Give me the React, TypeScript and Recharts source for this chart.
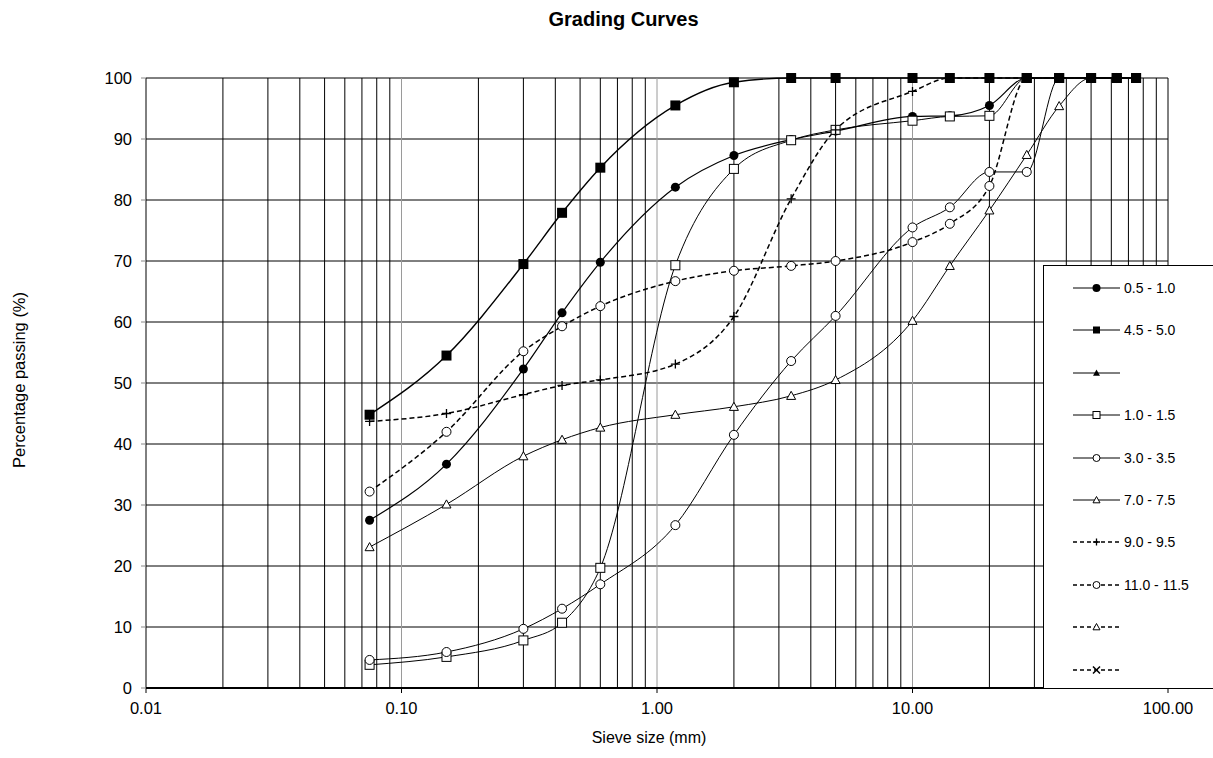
import React from 'react';
import { LineChart, Line, XAxis, YAxis, CartesianGrid, ReferenceLine } from 'recharts';

// sieve sizes (mm) used by every grading test
const sieveSizes = [0.075, 0.15, 0.3, 0.425, 0.6, 1.18, 2, 3.35, 5, 10, 14, 20, 28, 37.5, 50, 63, 75];

// percentage passing per sample depth
const depth05to10 = [27.5, 36.7, 52.3, 61.5, 69.8, 82.1, 87.3, 89.9, 91.3, 93.7, 93.8, 95.5, 100, 100, 100, 100, 100];
const depth45to50 = [44.8, 54.5, 69.5, 77.9, 85.3, 95.5, 99.3, 100, 100, 100, 100, 100, 100, 100, 100, 100, 100];
const depth10to15 = [3.8, 5.1, 7.8, 10.7, 19.7, 69.3, 85.1, 89.8, 91.5, 93.0, 93.7, 93.8, 100, 100, 100, 100, 100];
const depth30to35 = [4.6, 5.9, 9.7, 13.0, 17.0, 26.7, 41.5, 53.6, 61.0, 75.5, 78.8, 84.6, 84.6, 100, 100, 100, 100];
const depth70to75 = [23.1, 30.1, 38.0, 40.7, 42.7, 44.8, 46.1, 47.9, 50.5, 60.2, 69.2, 78.3, 87.4, 95.4, 100, 100, 100];
const depth90to95 = [43.7, 45.0, 48.1, 49.6, 50.5, 53.1, 60.9, 80.2, 91.5, 97.8, 100, 100, 100, 100, 100, 100, 100];
const depth110to115 = [32.2, 42.0, 55.2, 59.3, 62.6, 66.7, 68.4, 69.2, 70.0, 73.1, 76.1, 82.3, 100, 100, 100, 100, 100];

const xTicks = [0.01, 0.1, 1, 10, 100];
const yTicks = [0, 10, 20, 30, 40, 50, 60, 70, 80, 90, 100];

const data = sieveSizes.map((size, i) => ({
  size,
  d05: depth05to10[i],
  d45: depth45to50[i],
  d10: depth10to15[i],
  d30: depth30to35[i],
  d70: depth70to75[i],
  d90: depth90to95[i],
  d110: depth110to115[i],
}));

type Marker = 'dot' | 'square' | 'triangle' | 'hsquare' | 'hcircle' | 'htriangle' | 'plus' | 'cross';

// legend order matches the original workbook (some series have no data)
const series: { key: string | null; name: string; marker: Marker; dashed: boolean; width: number }[] = [
  { key: 'd05', name: '0.5 - 1.0', marker: 'dot', dashed: false, width: 1.2 },
  { key: 'd45', name: '4.5 - 5.0', marker: 'square', dashed: false, width: 1.4 },
  { key: null, name: '', marker: 'triangle', dashed: false, width: 1 },
  { key: 'd10', name: '1.0 - 1.5', marker: 'hsquare', dashed: false, width: 1 },
  { key: 'd30', name: '3.0 - 3.5', marker: 'hcircle', dashed: false, width: 1 },
  { key: 'd70', name: '7.0 - 7.5', marker: 'htriangle', dashed: false, width: 1 },
  { key: 'd90', name: '9.0 - 9.5', marker: 'plus', dashed: true, width: 1.5 },
  { key: 'd110', name: '11.0 - 11.5', marker: 'hcircle', dashed: true, width: 1.5 },
  { key: null, name: '', marker: 'htriangle', dashed: true, width: 1 },
  { key: null, name: '', marker: 'cross', dashed: true, width: 1.5 },
];

// log minor grid positions
const minorLines: number[] = [];
[0.01, 0.1, 1, 10].forEach((d) => {
  for (let k = 2; k <= 9; k++) minorLines.push(Number((d * k).toPrecision(3)));
});

function drawMarker(kind: Marker, cx: number, cy: number, s: number, key?: any) {
  const h = s / 2;
  switch (kind) {
    case 'dot':
      return <circle key={key} cx={cx} cy={cy} r={h} fill="#000" />;
    case 'square':
      return <rect key={key} x={cx - h} y={cy - h} width={s} height={s} fill="#000" />;
    case 'triangle':
      return <path key={key} d={`M${cx},${cy - h} L${cx + h},${cy + h * 0.8} L${cx - h},${cy + h * 0.8}Z`} fill="#000" />;
    case 'hsquare':
      return <rect key={key} x={cx - h} y={cy - h} width={s} height={s} fill="#fff" stroke="#000" strokeWidth={1} />;
    case 'hcircle':
      return <circle key={key} cx={cx} cy={cy} r={h} fill="#fff" stroke="#000" strokeWidth={1} />;
    case 'htriangle':
      return <path key={key} d={`M${cx},${cy - h} L${cx + h},${cy + h * 0.8} L${cx - h},${cy + h * 0.8}Z`} fill="#fff" stroke="#000" strokeWidth={1} />;
    case 'plus':
      return (
        <path key={key} d={`M${cx - h},${cy} H${cx + h} M${cx},${cy - h} V${cy + h}`} stroke="#000" strokeWidth={1.3} fill="none" />
      );
    case 'cross':
      return (
        <path key={key} d={`M${cx - h},${cy - h} L${cx + h},${cy + h} M${cx + h},${cy - h} L${cx - h},${cy + h}`} stroke="#000" strokeWidth={1.5} fill="none" />
      );
  }
}

const markerDot = (kind: Marker) => (props: any) => {
  const { cx, cy, index } = props;
  if (cx == null || cy == null) return <g key={index} />;
  const size = kind === 'dot' ? 9 : kind === 'square' ? 10 : 9;
  return drawMarker(kind, cx, cy, size, index);
};

const GradingLegend = () => (
  <div
    style={{
      position: 'absolute',
      left: 1043,
      top: 265,
      width: 180,
      height: 424,
      background: '#fff',
      border: '1px solid #000',
      boxSizing: 'border-box',
    }}
  >
    {series.map((s, i) => (
      <div
        key={i}
        style={{ position: 'absolute', left: 29, top: 14 + i * 42.4, height: 16, display: 'flex', alignItems: 'center' }}
      >
        <svg width={47} height={16}>
          <line x1={0} x2={47} y1={8} y2={8} stroke="#000" strokeWidth={s.dashed ? 1.5 : 1} strokeDasharray={s.dashed ? '4 3' : undefined} />
          {drawMarker(s.marker, 23.5, 8, s.marker === 'dot' ? 8 : 7)}
        </svg>
        <span style={{ marginLeft: 4, fontSize: 14, color: '#000', whiteSpace: 'nowrap' }}>{s.name}</span>
      </div>
    ))}
  </div>
);

export default function App() {
  return (
    <div
      style={{
        position: 'absolute',
        left: 0,
        top: 0,
        width: 1213,
        height: 758,
        background: '#fff',
        fontFamily: '"Liberation Sans", Arial, sans-serif',
      }}
    >
      <div style={{ position: 'absolute', top: 8, left: 0, width: 1247, textAlign: 'center', fontWeight: 'bold', fontSize: 20 }}>
        Grading Curves
      </div>
      <div
        style={{
          position: 'absolute',
          left: 19,
          top: 380,
          transform: 'translate(-50%, -50%) rotate(-90deg)',
          fontSize: 16.5,
          whiteSpace: 'nowrap',
        }}
      >
        Percentage passing (%)
      </div>
      <div style={{ position: 'absolute', left: 0, width: 1298, top: 729, textAlign: 'center', fontSize: 16 }}>
        Sieve size (mm)
      </div>

      <LineChart width={1213} height={758} data={data} margin={{ top: 78, right: 45, bottom: 0, left: 0 }}>
        <CartesianGrid vertical={false} stroke="#000" strokeWidth={1} />
        {minorLines.map((v) => (
          <ReferenceLine key={v} x={v} stroke="#000" strokeWidth={1} />
        ))}
        {[0.1, 1, 10].map((v) => (
          <ReferenceLine key={`m${v}`} x={v} stroke="#9a9a9a" strokeWidth={1} />
        ))}
        <ReferenceLine x={100} stroke="#000" strokeWidth={1} />
        <XAxis
          dataKey="size"
          type="number"
          scale="log"
          domain={[0.01, 100]}
          ticks={xTicks}
          allowDataOverflow
          tickFormatter={(v) => Number(v).toFixed(2)}
          axisLine={{ stroke: '#000', strokeWidth: 2 }}
          tickLine={{ stroke: '#000' }}
          tickSize={5}
          tickMargin={9}
          tick={{ fill: '#000', fontSize: 16.5 }}
          height={70}
        />
        <YAxis
          type="number"
          domain={[0, 100]}
          ticks={yTicks}
          width={146}
          axisLine={{ stroke: '#000' }}
          tickLine={{ stroke: '#888' }}
          tickSize={5}
          tickMargin={9}
          tick={{ fill: '#000', fontSize: 16.5 }}
        />
        {series
          .filter((s) => s.key)
          .sort((a, b) => (a.key === 'd45' ? 1 : b.key === 'd45' ? -1 : 0))
          .map((s) => (
            <Line
              key={s.key as string}
              dataKey={s.key as string}
              name={s.name}
              type="monotone"
              stroke="#000"
              strokeWidth={s.width}
              strokeDasharray={s.dashed ? '5 3' : undefined}
              dot={markerDot(s.marker)}
              activeDot={false}
              isAnimationActive={false}
            />
          ))}
      </LineChart>
      <GradingLegend />
    </div>
  );
}
